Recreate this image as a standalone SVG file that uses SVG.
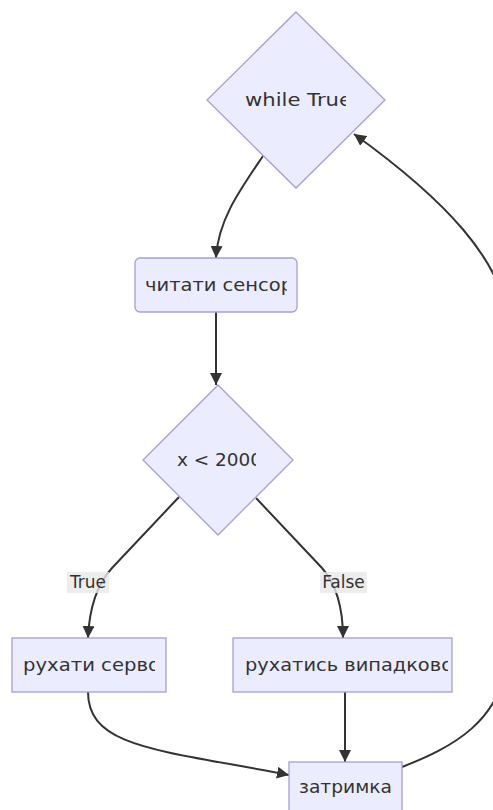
<svg xmlns="http://www.w3.org/2000/svg" width="493" height="810" viewBox="0 0 493 810">
<style>
.node{fill:#ECECFF;stroke:#a79ed4;stroke-width:1.3}
.lbl{font-family:"DejaVu Sans",Verdana,sans-serif;font-size:18px;fill:#333}
.el{font-family:"DejaVu Sans",Verdana,sans-serif;font-size:17px;fill:#333}
.edge{fill:none;stroke:#333;stroke-width:2}
.elbg{fill:#e8e8e8;opacity:0.8}
</style>
<defs>
<marker id="ah" markerUnits="userSpaceOnUse" markerWidth="12" markerHeight="12" viewBox="0 0 10 10" refX="10" refY="5" orient="auto">
<path d="M0,0 L10,5 L0,10 z" fill="#333"/>
</marker>
<clipPath id="c1"><rect x="240" y="80" width="106" height="40"/></clipPath>
<clipPath id="c2"><rect x="140" y="265" width="147" height="40"/></clipPath>
<clipPath id="c3"><rect x="170" y="440" width="86" height="40"/></clipPath>
<clipPath id="c4"><rect x="18" y="645" width="137" height="40"/></clipPath>
<clipPath id="c5"><rect x="240" y="645" width="208" height="40"/></clipPath>
</defs>
<rect width="493" height="810" fill="#fff"/>
<g id="edges">
<path class="edge" d="M263,156 C240,190 218,220 216,258" marker-end="url(#ah)"/>
<path class="edge" d="M216,312 L216,385" marker-end="url(#ah)"/>
<path class="edge" d="M179,497 L112,568 Q90,592 88,638" marker-end="url(#ah)"/>
<path class="edge" d="M256,498 L322,568 Q343,592 343,638" marker-end="url(#ah)"/>
<path class="edge" d="M88,692 C88,748 160,750 289,775" marker-end="url(#ah)"/>
<path class="edge" d="M345,692 L345,762" marker-end="url(#ah)"/>
<path class="edge" d="M402,767 C450,748 505,722 508,650 L508,330 C508,262 440,196 354,134" marker-end="url(#ah)"/>
<g id="label-true">
<rect class="elbg" x="67" y="572" width="42" height="21"/>
<text class="el" x="88" y="588" text-anchor="middle">True</text>
</g>
<g id="label-false">
<rect class="elbg" x="320" y="572" width="47" height="21"/>
<text class="el" x="343.5" y="588" text-anchor="middle">False</text>
</g>
</g>
<g id="while">
<polygon class="node" points="296,12 385,100 296,188 207,100"/>
<text class="lbl" x="245" y="106" clip-path="url(#c1)" textLength="107" lengthAdjust="spacingAndGlyphs">while True</text>
</g>
<g id="read">
<rect class="node" x="135" y="258" width="162" height="54" rx="5"/>
<text class="lbl" x="145" y="291" clip-path="url(#c2)" textLength="148" lengthAdjust="spacingAndGlyphs">читати сенсор</text>
</g>
<g id="cond">
<polygon class="node" points="218,385 293,460 218,535 143,460"/>
<text class="lbl" x="177" y="466" clip-path="url(#c3)" textLength="85" lengthAdjust="spacingAndGlyphs">x &lt; 2000</text>
</g>
<g id="servo">
<rect class="node" x="12" y="638" width="154" height="54"/>
<text class="lbl" x="23" y="671" clip-path="url(#c4)" textLength="137" lengthAdjust="spacingAndGlyphs">рухати серво</text>
</g>
<g id="random">
<rect class="node" x="233" y="638" width="219" height="54"/>
<text class="lbl" x="245" y="671" clip-path="url(#c5)" textLength="208" lengthAdjust="spacingAndGlyphs">рухатись випадково</text>
</g>
<g id="delay">
<rect class="node" x="289" y="762" width="113" height="54"/>
<text class="lbl" x="299" y="793" textLength="93" lengthAdjust="spacingAndGlyphs">затримка</text>
</g>
</svg>
